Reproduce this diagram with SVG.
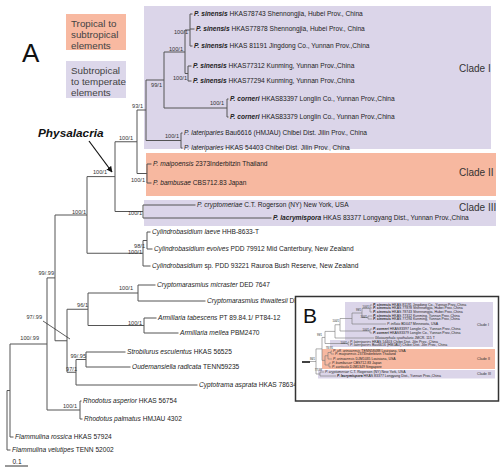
<svg xmlns="http://www.w3.org/2000/svg" width="500" height="472" viewBox="0 0 500 472">
<style>
text{font-family:"Liberation Sans",Arial,sans-serif;fill:#222}
.t{font-size:6.6px}
.i{font-style:italic}
.bi{font-style:italic;font-weight:bold}
.b{font-size:5.6px;fill:#333}
.cl{font-size:10px;fill:#333}
.lg{font-size:9.8px;fill:#444}
.br{fill:none;stroke:#555;stroke-width:1}
.s{font-size:3.5px}
.sb{font-size:2.6px;fill:#333}
.bri{fill:none;stroke:#777;stroke-width:0.6}
</style>
<defs>
<marker id="ah" viewBox="0 0 10 10" refX="9" refY="5" markerWidth="5" markerHeight="5" orient="auto"><path d="M0,0 L10,5 L0,10 z" fill="#111"/></marker>
</defs>
<rect width="500" height="472" fill="#fff"/>
<g id="legend">
<text x="22" y="62" style="font-size:26px;fill:#111">A</text>
<rect x="66" y="14" width="60" height="36" fill="#f8b9a1"/>
<text class="lg" x="71" y="27">Tropical to</text>
<text class="lg" x="71" y="38">subtropical</text>
<text class="lg" x="71" y="49">elements</text>
<rect x="66" y="61" width="60" height="37" fill="#dcd7ea"/>
<text class="lg" x="71" y="74">Subtropical</text>
<text class="lg" x="71" y="85">to temperate</text>
<text class="lg" x="71" y="96">elements</text>
</g>
<g id="clade-boxes">
<rect x="144" y="6" width="347" height="143" fill="#dbd5e9"/>
<rect x="146" y="153" width="350" height="43" fill="#f7b8a0"/>
<rect x="144" y="200" width="352" height="26" fill="#dbd5e9"/>
<text class="cl" x="459" y="72">Clade I</text>
<text class="cl" x="459" y="176">Clade II</text>
<text class="cl" x="459" y="211">Clade III</text>
</g>
<g id="connectors">
<path class="br" d="M190,14V46M190,14H192.5M190,29H194.5M190,46H192.5
M188,66V81M188,66H191.5M188,81H191.5
M185,30V73.5M185,30H190M185,73.5H188
M227,99V117M227,99H228.5M227,117H228.5
M164,52V108M164,52H185M164,108H227
M146,80V140.5M146,80H164M146,140.5H181
M181,133V148M181,133H182.5M181,148H182.5
M147,164V183M147,164H151.5M147,183H151.5
M137,110V173.5M137,110H146M137,173.5H147
M143,205V218M143,205H195.5M143,218H271.5
M115,141.75V211.5M115,141.75H137M115,211.5H143
M147,232V249M147,232H150.5M147,249H152.5
M143,240.5V266M143,240.5H147M143,266H150.5
M87,176.6V253.25M87,176.6H115M87,253.25H143
M138,285V301M138,285H155.5M138,301H205.5
M144,318V333M144,318H156.5M144,333H178.5
M88,293V325.5M88,293H138M88,325.5H144
M86,352V367M86,352H125.5M86,367H130.5
M76,359.5V385M76,359.5H86M76,385H197.5
M67,309.25V372.25M67,309.25H88M67,372.25H76
M55,215V340.75M55,215H87M55,340.75H67
M80,401V419M80,401H81.5M80,419H82.5
M47,277.9V410M47,277.9H55M47,410H80
M10,344V437M10,344H47M10,437H13.5
M7,390.5V450M7,390.5H10M7,450H10.5"/>
<path d="M43,321L70,339" stroke="#333" stroke-width="0.8" fill="none"/>
<path d="M89,141L112,172" stroke="#111" stroke-width="1.2" fill="none" marker-end="url(#ah)"/>
<path d="M5,466H28" stroke="#333" stroke-width="1"/>
</g>
<g id="bootstrap">
<text class="b" x="188" y="34" text-anchor="end">100/1</text>
<text class="b" x="187" y="80" text-anchor="end">100/1</text>
<text class="b" x="183" y="51" text-anchor="end">100/1</text>
<text class="b" x="224" y="105" text-anchor="end">100/1</text>
<text class="b" x="162" y="87" text-anchor="end">99/1</text>
<text class="b" x="143" y="108" text-anchor="end">93/1</text>
<text class="b" x="179" y="138" text-anchor="end">100/1</text>
<text class="b" x="133" y="140" text-anchor="end">100/1</text>
<text class="b" x="145" y="182" text-anchor="end">100/1</text>
<text class="b" x="142" y="215" text-anchor="end">100/1</text>
<text class="b" x="107" y="174" text-anchor="end">100/1</text>
<text class="b" x="86" y="214" text-anchor="end">100/1</text>
<text class="b" x="145" y="248" text-anchor="end">98/1</text>
<text class="b" x="142" y="254" text-anchor="end">100/1</text>
<text class="b" x="54" y="275" text-anchor="end">99/.99</text>
<text class="b" x="133" y="290" text-anchor="end">100/1</text>
<text class="b" x="88" y="307" text-anchor="end">96/1</text>
<text class="b" x="142" y="325" text-anchor="end">100/1</text>
<text class="b" x="42" y="319" text-anchor="end">97/.99</text>
<text class="b" x="39" y="340" text-anchor="end">100/.99</text>
<text class="b" x="86" y="358" text-anchor="end">99/.95</text>
<text class="b" x="77" y="371" text-anchor="end">97/1</text>
<text class="b" x="77" y="408" text-anchor="end">100/1</text>
</g>
<g id="physalacria-label">
<text x="38" y="137" style="font-size:11.8px;font-weight:bold;font-style:italic;fill:#111">Physalacria</text>
</g>
<g id="tips">
<text class="t" x="194" y="16.3"><tspan class="bi">P. sinensis</tspan> HKAS78743 Shennongjia, Hubei Prov., China</text>
<text class="t" x="196" y="31.3"><tspan class="bi">P. sinensis</tspan> HKAS77878 Shennongjia, Hubei Prov., China</text>
<text class="t" x="194" y="48.3"><tspan class="bi">P. sinensis</tspan> HKAS 81191 Jingdong Co., Yunnan Prov.,China</text>
<text class="t" x="193" y="68.3"><tspan class="bi">P. sinensis</tspan> HKAS77312 Kunming, Yunnan Prov.,China</text>
<text class="t" x="193" y="83.3"><tspan class="bi">P. sinensis</tspan> HKAS77294 Kunming, Yunnan Prov.,China</text>
<text class="t" x="230" y="101.3"><tspan class="bi">P. corneri</tspan> HKAS83397 Longlin Co., Yunnan Prov.,China</text>
<text class="t" x="230" y="119.3"><tspan class="bi">P. corneri</tspan> HKAS83379 Longlin Co., Yunnan Prov.,China</text>
<text class="t" x="184" y="135.3"><tspan class="i">P. lateriparies</tspan> Bau6616 (HMJAU) Chibei Dist. Jilin Prov., China</text>
<text class="t" x="184" y="150.3"><tspan class="i">P. lateriparies</tspan> HKAS 54403  Chibei Dist. Jilin Prov., China</text>
<text class="t" x="153" y="166.3"><tspan class="i">P. maipoensis</tspan> 2373Inderbitzin Thailand</text>
<text class="t" x="153" y="185.3"><tspan class="i">P. bambusae</tspan> CBS712.83 Japan</text>
<text class="t" x="197" y="207.3"><tspan class="i">P. cryptomeriae</tspan> C.T. Rogerson (NY) New York, USA</text>
<text class="t" x="273" y="220.3"><tspan class="bi">P. lacrymispora</tspan> HKAS 83377 Longyang Dist., Yunnan Prov.,China</text>
<text class="t" x="152" y="234.3"><tspan class="i">Cylindrobasidium laeve</tspan> HHB-8633-T</text>
<text class="t" x="154" y="251.3"><tspan class="i">Cylindrobasidium evolves</tspan> PDD 79912 Mid Canterbury, New Zealand</text>
<text class="t" x="152" y="268.3"><tspan class="i">Cylindrobasidium</tspan> sp. PDD 93221 Rauroa Bush Reserve, New Zealand</text>
<text class="t" x="157" y="287.3"><tspan class="i">Cryptomarasmius micraster</tspan> DED 7647</text>
<text class="t" x="207" y="303.3"><tspan class="i">Cryptomarasmius thwaitesii</tspan> DED 7852</text>
<text class="t" x="158" y="320.3"><tspan class="i">Armillaria tabescens</tspan> PT 89.84.1/ PT84-12</text>
<text class="t" x="180" y="335.3"><tspan class="i">Armillaria mellea</tspan> PBM2470</text>
<text class="t" x="127" y="354.3"><tspan class="i">Strobilurus esculentus</tspan> HKAS 56525</text>
<text class="t" x="132" y="369.3"><tspan class="i">Oudemansiella radicata</tspan> TENN59235</text>
<text class="t" x="199" y="387.3"><tspan class="i">Cyptotrama asprata</tspan> HKAS 78634</text>
<text class="t" x="83" y="403.3"><tspan class="i">Rhodotus asperior</tspan> HKAS 56754</text>
<text class="t" x="84" y="421.3"><tspan class="i">Rhodotus palmatus</tspan> HMJAU 4302</text>
<text class="t" x="15" y="439.3"><tspan class="i">Flammulina rossica</tspan> HKAS 57924</text>
<text class="t" x="12" y="452.3"><tspan class="i">Flammulina velutipes</tspan> TENN 52002</text>
<text class="t" x="17" y="464" text-anchor="middle">0.1</text>
</g>
<g id="inset-B">
<rect x="295.5" y="296.5" width="203" height="104.5" fill="#fff" stroke="#333" stroke-width="1.5"/>
<text x="303" y="323" style="font-size:21px;fill:#111">B</text>
<path d="M345,302H493V347H330V340H345Z" fill="#dbd5e9"/>
<rect x="322" y="349" width="173" height="20" fill="#f7b8a0"/>
<rect x="318" y="370" width="177" height="8.5" fill="#dbd5e9"/>
<text class="sb" x="477" y="326" style="font-size:3.8px">Clade I</text>
<text class="sb" x="477" y="359.5" style="font-size:3.8px">Clade II</text>
<text class="sb" x="477" y="374.5" style="font-size:3.8px">Clade III</text>
<path class="bri" d="M370,305V312M370,305H372M370,308H372M370,312H372
M368,316V319M368,316H372M368,319H372
M362,308.5V317.5M362,308.5H370M362,317.5H368
M352,313V324M352,313H362M352,324H386
M370,329V333M370,329H372M370,333H372
M340,318.5V331M340,318.5H352M340,331H370
M335,324.75V338M335,324.75H340M335,338H374
M348,342V345M348,342H349M348,345H349
M325,331.4V343.5M325,331.4H335M325,343.5H348
M331,351V354M331,351H332M331,354H334
M328,352.5V359M328,352.5H331M328,359H332
M329,363V367M329,363H331M329,367H331
M325,355.75V365M325,355.75H328M325,365H329
M322,337.45V360.4M322,337.45H325M322,360.4H325
M320,372V376M320,372H324M320,376H336
M316,348.9V374M316,348.9H322M316,374H320
M310,361.5H316"/>
<path d="M302,362H310" stroke="#111" stroke-width="1.6"/>
<g class="s">
<text x="373" y="306"><tspan class="bi">P. sinensis</tspan> HKAS 81191 Jingdong Co., Yunnan Prov.,China</text>
<text x="373" y="309.4"><tspan class="bi">P. sinensis</tspan> HKAS 77878 Shennongjia, Hubei Prov.,China</text>
<text x="373" y="313"><tspan class="bi">P. sinensis</tspan> HKAS 78743 Shennongjia, Hubei Prov.,China</text>
<text x="373" y="317"><tspan class="bi">P. sinensis</tspan> HKAS 77312 Kunming, Yunnan Prov.,China</text>
<text x="373" y="320.4"><tspan class="bi">P. sinensis</tspan> HKAS 77294 Kunming, Yunnan Prov.,China</text>
<text x="387" y="325"><tspan class="i">P. inflata</tspan> BD047 Minnesota, USA</text>
<text x="373" y="330"><tspan class="bi">P. corneri</tspan> HKAS83397 Longlin Co., Yunnan Prov.,China</text>
<text x="373" y="334"><tspan class="bi">P. corneri</tspan> HKAS83379 Longlin Co., Yunnan Prov.,China</text>
<text x="375" y="339"><tspan class="i">Gloiocephala spathularia</tspan> JMCR. 115 T</text>
<text x="350" y="343"><tspan class="i">P. lateriparies</tspan> HKAS 54403 Chibei Dist. Jilin Prov., China</text>
<text x="350" y="346.4"><tspan class="i">P. lateriparies</tspan> Bau6616 (HMJAU) Chibei Dist. Jilin Prov., China</text>
<text x="333" y="352"><tspan class="i">P. aff. orinocensis</tspan> TENN58488 Louisiana, USA</text>
<text x="335" y="355.4"><tspan class="i">P. maipoensis</tspan> 2373Inderbitzin Thailand</text>
<text x="333" y="360"><tspan class="i">P. orinocensis</tspan> DJM1035 Louisiana, USA</text>
<text x="332" y="364"><tspan class="i">P. bambusae</tspan> CBS712.83 Japan</text>
<text x="332" y="368"><tspan class="i">P. corticola</tspan> DJM1349 Singapore</text>
<text x="325" y="373"><tspan class="i">P. cryptomeriae</tspan> C.T. Rogerson (NY) New York, USA</text>
<text x="337" y="377"><tspan class="bi">P. lacrymispora</tspan> HKAS 83377 Longyang Dist., Yunnan Prov.,China</text>
</g>
<g class="sb">
<text x="369" y="307.5" text-anchor="end">100/1</text>
<text x="367" y="318" text-anchor="end">100/1</text>
<text x="361" y="311" text-anchor="end">99/1</text>
<text x="369" y="331" text-anchor="end">100/1</text>
<text x="339" y="322" text-anchor="end">100/1</text>
<text x="347" y="344" text-anchor="end">100/1</text>
<text x="322" y="336" text-anchor="end">99/1</text>
<text x="333" y="349" text-anchor="end">78/.95</text>
<text x="315" y="360" text-anchor="end">86/1</text>
<text x="322" y="371" text-anchor="end">77/.98</text>
</g>
</g>
</svg>
